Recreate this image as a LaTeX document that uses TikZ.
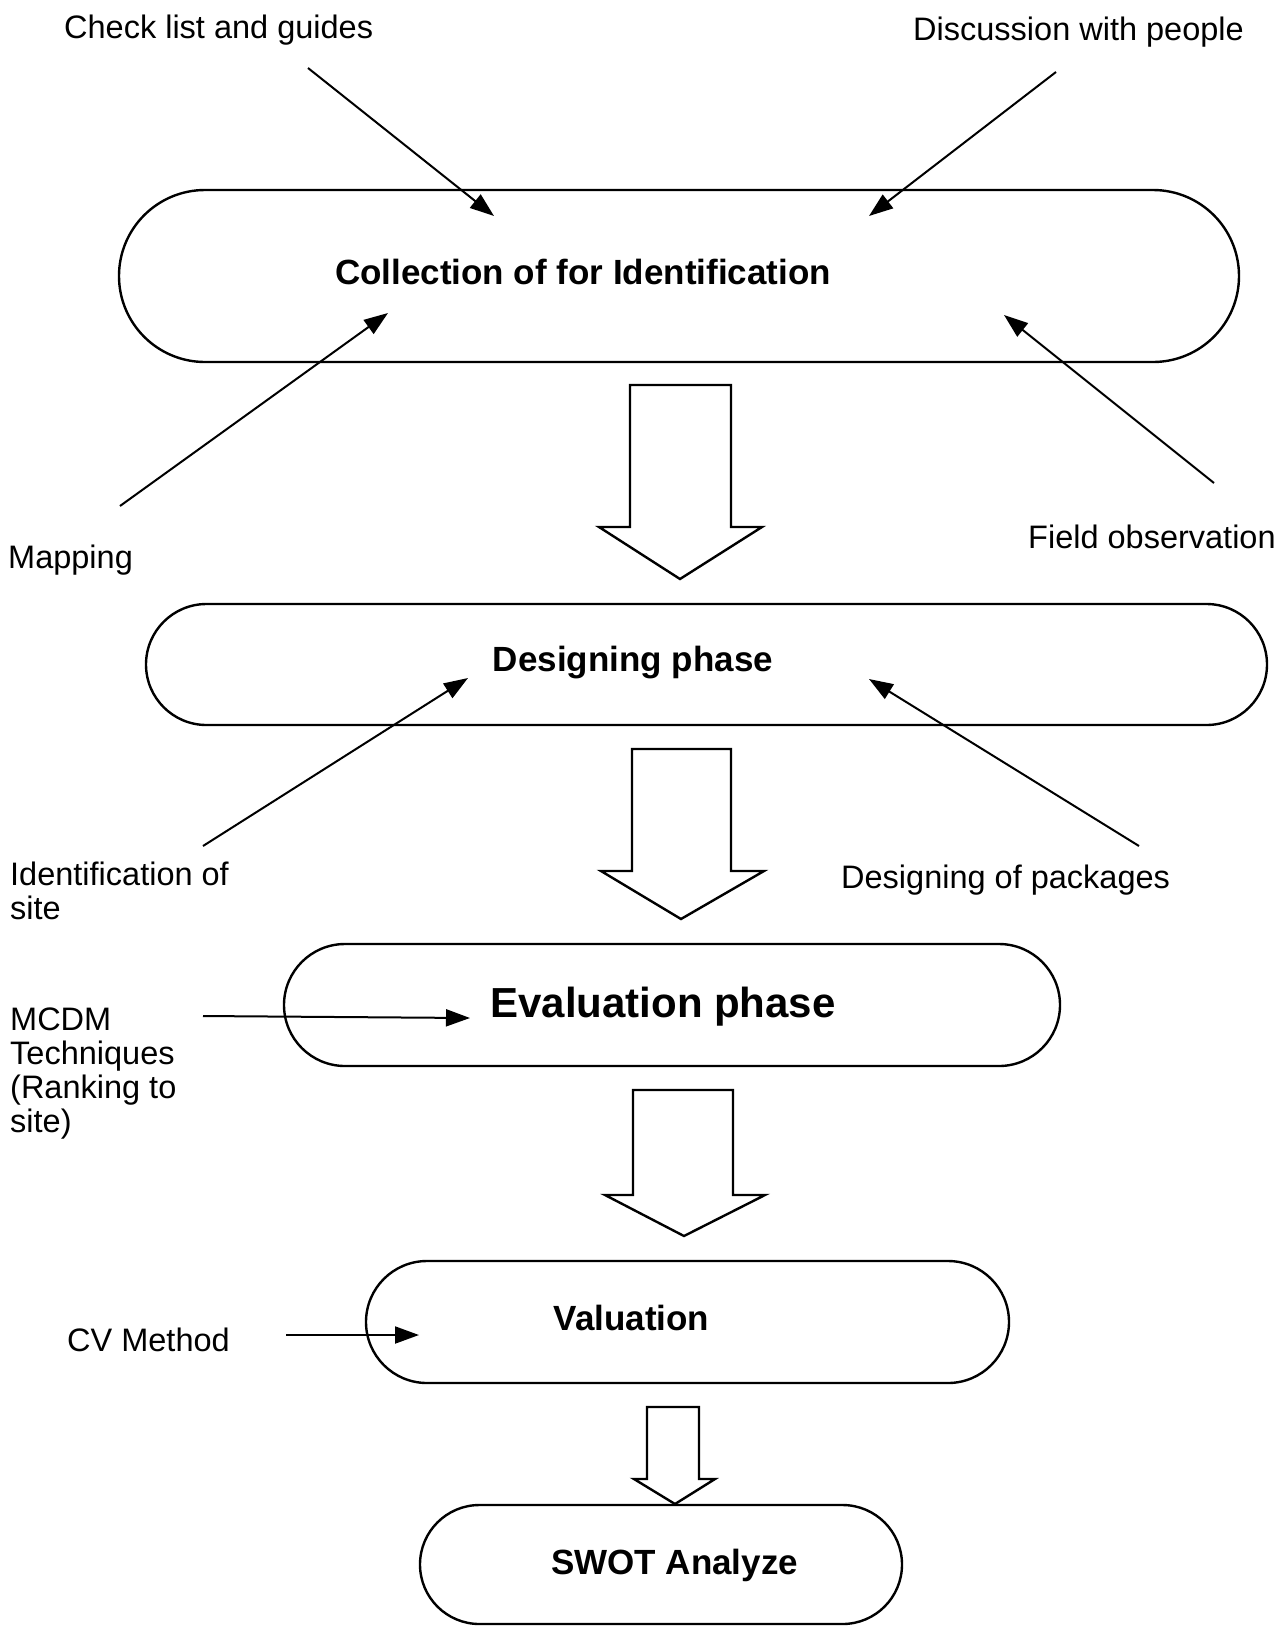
\documentclass[tikz,border=0pt]{standalone}
\usepackage{fontspec}
\setmainfont{Liberation Sans}
\usetikzlibrary{arrows.meta}
\begin{document}
\begin{tikzpicture}[x=1pt,y=-1pt,
  box/.style={draw, line width=2.4pt, inner sep=0pt},
  lbl/.style={inner sep=0pt, font=\fontsize{32.5}{34}\selectfont},
  blbl/.style={inner sep=0pt, anchor=base, font=\fontsize{35}{36}\selectfont\bfseries},
  conn/.style={line width=2pt, -{Triangle[length=24pt,width=17pt]}},
  blk/.style={draw, line width=2.4pt, line join=miter, fill=white}]
\useasboundingbox (0,0) rectangle (1285,1626);
% stadium boxes
\node[box, minimum width=1120pt, minimum height=172pt, rounded corners=86pt] (coll) at (679,276) {};
\node[box, minimum width=1121pt, minimum height=121pt, rounded corners=60.5pt] (des) at (706.5,664.5) {};
\node[box, minimum width=776pt, minimum height=122pt, rounded corners=61pt] (eval) at (672,1005) {};
\node[box, minimum width=643pt, minimum height=122pt, rounded corners=61pt] (val) at (687.5,1322) {};
\node[box, minimum width=482pt, minimum height=119pt, rounded corners=59.5pt] (swot) at (661,1564.5) {};
% box texts
\node[blbl] (tcoll) at (583,284) {Collection of for Identification};
\node[blbl] (tdes) at (633,671) {Designing phase};
\node[blbl, font=\fontsize{42}{44}\selectfont\bfseries] (teval) at (663,1017) {Evaluation phase};
\node[blbl] (tval) at (631.5,1330) {Valuation};
\node[blbl] (tswot) at (674.6,1574) {SWOT Analyze};
% block arrows
\draw[blk] (630,385) -- (731,385) -- (731,527) -- (762,527) -- (680,579) -- (599,527) -- (630,527) -- cycle;
\draw[blk] (632,749) -- (731,749) -- (731,871) -- (764,871) -- (681,919) -- (601,871) -- (632,871) -- cycle;
\draw[blk] (633,1090) -- (733,1090) -- (733,1195) -- (765,1195) -- (684,1236) -- (605,1195) -- (633,1195) -- cycle;
\draw[blk] (647,1407) -- (699,1407) -- (699,1479) -- (715,1479) -- (675,1504) -- (634,1479) -- (647,1479) -- cycle;
% outer labels
\node[lbl, anchor=base west] (lcheck) at (64,38) {Check list and guides};
\node[lbl, anchor=base east] (ldisc) at (1244,40) {Discussion with people};
\node[lbl, anchor=base west] (lmap) at (8,568) {Mapping};
\node[lbl, anchor=base west] (lfield) at (1028,548) {Field observation};
\node[lbl, anchor=north west, align=left] (lident) at (10,862) {Identification of\\site};
\node[lbl, anchor=base west] (lpack) at (841,888) {Designing of packages};
\node[lbl, anchor=north west, align=left] (lmcdm) at (10,1008) {MCDM\\Techniques\\(Ranking to\\site)};
\node[lbl, anchor=base west] (lcv) at (67,1351) {CV Method};
% connector ends
\coordinate (s1) at (308,68);   \coordinate (e1) at (494,216);
\coordinate (s2) at (1056,72);  \coordinate (e2) at (869,216);
\coordinate (s3) at (120,506);  \coordinate (e3) at (388,313);
\coordinate (s4) at (1214,483); \coordinate (e4) at (1004,315);
\coordinate (s5) at (203,846);  \coordinate (e5) at (468,678);
\coordinate (s6) at (1139,846); \coordinate (e6) at (869,679);
\coordinate (s7) at (203,1016); \coordinate (e7) at (470,1018);
\coordinate (s8) at (286,1335); \coordinate (e8) at (419,1335);
\foreach \i in {1,...,8} {\draw[conn] (s\i) -- (e\i);}
\end{tikzpicture}
\end{document}
